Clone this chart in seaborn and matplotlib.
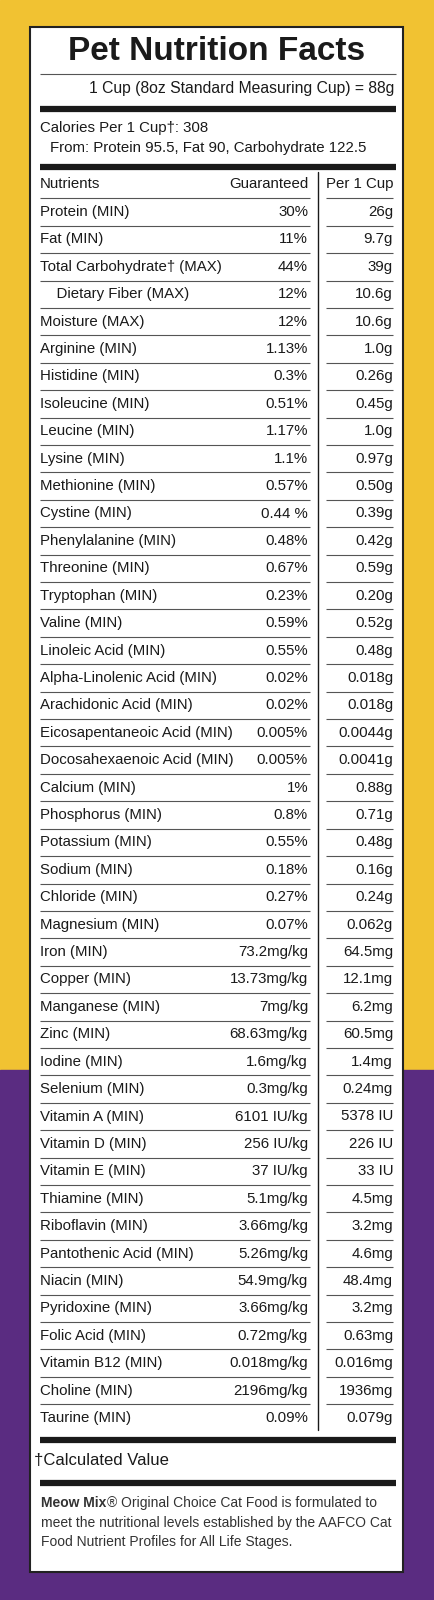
import matplotlib
matplotlib.use("Agg")
import matplotlib.pyplot as plt
import seaborn as sns
from matplotlib.patches import Rectangle

nutrients = ["Protein (MIN)", "Fat (MIN)", "Total Carbohydrate\u2020 (MAX)", "    Dietary Fiber (MAX)",
             "Moisture (MAX)", "Arginine (MIN)", "Histidine (MIN)", "Isoleucine (MIN)", "Leucine (MIN)",
             "Lysine (MIN)", "Methionine (MIN)", "Cystine (MIN)", "Phenylalanine (MIN)", "Threonine (MIN)",
             "Tryptophan (MIN)", "Valine (MIN)", "Linoleic Acid (MIN)", "Alpha-Linolenic Acid (MIN)",
             "Arachidonic Acid (MIN)", "Eicosapentaneoic Acid (MIN)", "Docosahexaenoic Acid (MIN)",
             "Calcium (MIN)", "Phosphorus (MIN)", "Potassium (MIN)", "Sodium (MIN)", "Chloride (MIN)",
             "Magnesium (MIN)", "Iron (MIN)", "Copper (MIN)", "Manganese (MIN)", "Zinc (MIN)",
             "Iodine (MIN)", "Selenium (MIN)", "Vitamin A (MIN)", "Vitamin D (MIN)", "Vitamin E (MIN)",
             "Thiamine (MIN)", "Riboflavin (MIN)", "Pantothenic Acid (MIN)", "Niacin (MIN)",
             "Pyridoxine (MIN)", "Folic Acid (MIN)", "Vitamin B12 (MIN)", "Choline (MIN)", "Taurine (MIN)"]
guaranteed = ["30%", "11%", "44%", "12%", "12%", "1.13%", "0.3%", "0.51%", "1.17%", "1.1%", "0.57%",
              "0.44 %", "0.48%", "0.67%", "0.23%", "0.59%", "0.55%", "0.02%", "0.02%", "0.005%", "0.005%",
              "1%", "0.8%", "0.55%", "0.18%", "0.27%", "0.07%", "73.2mg/kg", "13.73mg/kg", "7mg/kg",
              "68.63mg/kg", "1.6mg/kg", "0.3mg/kg", "6101 IU/kg", "256 IU/kg", "37 IU/kg", "5.1mg/kg",
              "3.66mg/kg", "5.26mg/kg", "54.9mg/kg", "3.66mg/kg", "0.72mg/kg", "0.018mg/kg",
              "2196mg/kg", "0.09%"]
per_cup = ["26g", "9.7g", "39g", "10.6g", "10.6g", "1.0g", "0.26g", "0.45g", "1.0g", "0.97g", "0.50g",
           "0.39g", "0.42g", "0.59g", "0.20g", "0.52g", "0.48g", "0.018g", "0.018g", "0.0044g", "0.0041g",
           "0.88g", "0.71g", "0.48g", "0.16g", "0.24g", "0.062g", "64.5mg", "12.1mg", "6.2mg", "60.5mg",
           "1.4mg", "0.24mg", "5378 IU", "226 IU", "33 IU", "4.5mg", "3.2mg", "4.6mg", "48.4mg", "3.2mg",
           "0.63mg", "0.016mg", "1936mg", "0.079g"]

sns.set_style("white")
plt.rcParams['font.family'] = ['Liberation Sans', 'DejaVu Sans']

fig = plt.figure(figsize=(4.34, 16), dpi=100)
ax = fig.add_axes([0, 0, 1, 1])
ax.set_xlim(0, 434)
ax.set_ylim(1600, 0)
ax.axis("off")

YEL = "#F1C232"
PUR = "#5A2C81"
ax.add_patch(Rectangle((0, 0), 434, 1070, color=YEL, zorder=0))
ax.add_patch(Rectangle((0, 1070), 434, 530, color=PUR, zorder=0))
ax.add_patch(Rectangle((30, 27), 373, 1545, facecolor="white", edgecolor="#222", lw=1.5, zorder=1))

L, R, DIV, PC0 = 40, 396, 318, 326
K = "#1a1a1a"
FS = 10.8

def hline(y, x0=L, x1=R, lw=1.0, c="#555"):
    ax.plot([x0, x1], [y, y], color=c, lw=lw, solid_capstyle="butt", zorder=2)

ax.text(217, 52, "Pet Nutrition Facts", fontsize=24, fontweight="bold",
        va="center", ha="center", color=K, zorder=3)
hline(74, lw=0.8)
ax.text(R - 2, 89, "1 Cup (8oz Standard Measuring Cup) = 88g", fontsize=11.3, ha="right", va="center", color=K)
hline(109, lw=4.5, c=K)
ax.text(L, 128, "Calories Per 1 Cup\u2020: 308", fontsize=FS, ha="left", va="center", color=K)
ax.text(L + 10, 148, "From: Protein 95.5, Fat 90, Carbohydrate 122.5", fontsize=FS, ha="left", va="center", color=K)
hline(167, lw=4.5, c=K)
ax.text(L, 184, "Nutrients", fontsize=FS, ha="left", va="center", color=K)
ax.text(308, 184, "Guaranteed", fontsize=FS, ha="right", va="center", color=K)
ax.text(393, 184, "Per 1 Cup", fontsize=FS, ha="right", va="center", color=K)

y0, dy = 212, (1418 - 212) / (len(nutrients) - 1)
ax.plot([DIV, DIV], [172, 1430], color=K, lw=1.0, zorder=2)
for i, (n, g, p) in enumerate(zip(nutrients, guaranteed, per_cup)):
    y = y0 + i * dy
    hline(y - dy / 2, L, 310, lw=0.8)
    hline(y - dy / 2, PC0, R - 3, lw=0.8)
    ax.text(L, y, n, fontsize=FS, ha="left", va="center", color=K, zorder=3)
    ax.text(308, y, g, fontsize=FS, ha="right", va="center", color=K, zorder=3)
    ax.text(393, y, p, fontsize=FS, ha="right", va="center", color=K, zorder=3)

hline(1440, lw=4.5, c=K)
ax.text(34, 1461, "\u2020Calculated Value", fontsize=12, ha="left", va="center", color=K)
hline(1483, lw=4.5, c=K)
foot_y = [1503, 1523, 1542]
b = ax.text(L + 1, foot_y[0], "Meow Mix", fontsize=10, fontweight="bold", ha="left", va="center", color="#333")
fig.canvas.draw()
bb = b.get_window_extent().transformed(ax.transData.inverted())
ax.text(bb.x1 + 1, foot_y[0], "\u00ae Original Choice Cat Food is formulated to", fontsize=10,
        ha="left", va="center", color="#333")
ax.text(L + 1, foot_y[1], "meet the nutritional levels established by the AAFCO Cat", fontsize=10,
        ha="left", va="center", color="#333")
ax.text(L + 1, foot_y[2], "Food Nutrient Profiles for All Life Stages.", fontsize=10,
        ha="left", va="center", color="#333")

fig.savefig("out.png", dpi=100)
